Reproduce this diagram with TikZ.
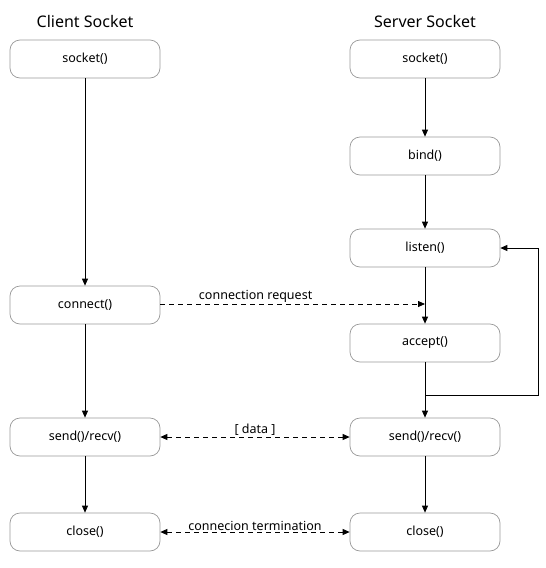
\documentclass[tikz,border=0pt]{standalone}
\usepackage{fontspec}
\setmainfont{Noto Sans}
\usetikzlibrary{arrows.meta}
\begin{document}
\begin{tikzpicture}[x=1pt,y=-1pt,
  box/.style={draw=black!40, line width=0.7pt, rounded corners=10pt, minimum width=150pt, minimum height=38pt, inner sep=0pt, font=\fontsize{12.5}{15}\selectfont, fill=white},
  title/.style={font=\fontsize{16}{19}\selectfont},
  lbl/.style={font=\fontsize{12.5}{15}\selectfont, inner sep=1pt},
  arr/.style={-{Triangle[length=7pt,width=6pt]}, line width=0.8pt},
  darr/.style={{Triangle[length=7pt,width=6pt]}-{Triangle[length=7pt,width=6pt]}, line width=0.8pt, dash pattern=on 5pt off 4pt},
  sdarr/.style={-{Triangle[length=7pt,width=6pt]}, line width=0.8pt, dash pattern=on 5pt off 4pt}]
\useasboundingbox (0,0) rectangle (546,568);
\node[title] (ct) at (85,21) {Client Socket};
\node[title] (st) at (425,21) {Server Socket};
\node[box] (csock) at (85,59) {socket()};
\node[box] (cconn) at (85,305) {connect()};
\node[box] (csend) at (85,437) {send()/recv()};
\node[box] (cclose) at (85,532) {close()};
\node[box] (ssock) at (425,59) {socket()};
\node[box] (sbind) at (425,156) {bind()};
\node[box] (slisten) at (425,248) {listen()};
\node[box] (saccept) at (425,343) {accept()};
\node[box] (ssend) at (425,437) {send()/recv()};
\node[box] (sclose) at (425,532) {close()};
\coordinate (req) at (425,304);
\coordinate (lp1) at (425,395);
\coordinate (lp2) at (538,395);
\coordinate (lp3) at (538,248);
\draw[arr] (csock) -- (cconn);
\draw[arr] (cconn) -- (csend);
\draw[arr] (csend) -- (cclose);
\draw[arr] (ssock) -- (sbind);
\draw[arr] (sbind) -- (slisten);
\draw[arr] (slisten) -- (saccept);
\draw[arr] (saccept) -- (ssend);
\draw[arr] (ssend) -- (sclose);
\draw[arr] (lp1) -- (lp2) -- (lp3) -- (slisten.east);
\draw[sdarr] (cconn.east |- req) -- node[lbl, above=0pt, pos=0.36] {connection request} (req);
\draw[darr] (csend) -- node[lbl, above=0pt] {[ data ]} (ssend);
\draw[darr] (cclose) -- node[lbl, above=0pt] {connecion termination} (sclose);
\end{tikzpicture}
\end{document}
